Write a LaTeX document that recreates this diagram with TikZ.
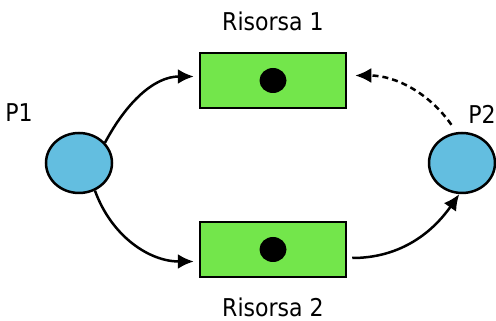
\documentclass[tikz,border=0pt]{standalone}
\usepackage{fontspec}
\setmainfont{DejaVu Sans}[FakeStretch=0.9]
\usetikzlibrary{arrows.meta, positioning, shapes.geometric}
\definecolor{placeblue}{RGB}{99,190,224}
\definecolor{resgreen}{RGB}{115,230,75}

\begin{document}
\begin{tikzpicture}[
						x=1pt, y=1pt,
						font=\fontsize{24.5}{28}\selectfont,
						place/.style = {draw, fill=placeblue, ellipse, line width=2.5pt, minimum width=66pt, minimum height=60pt},
						resource/.style = {draw, fill=resgreen, rectangle, line width=2.5pt, minimum width=146pt, minimum height=55pt},
						token/.style = {fill=black, ellipse, inner sep=0pt, minimum width=27pt, minimum height=25pt},
						tag/.style = {inner sep=0pt},
						arc/.style = {-{Latex[length=16pt,width=15pt]}, line width=2.5pt}
					]
\useasboundingbox (0,0) rectangle (496,321);

\node[place] (p1) at (79,158) {};
\node[place] (p2) at (462,158) {};
\node[resource] (r1) at (273,240.5) {};
\node[resource] (r2) at (273,71.5) {};
\node[token] (t1) at (r1) {};
\node[token] (t2) at (r2) {};

\node[tag] (n1) at (19,208) {P1};
\node[tag] (n2) at (482,207) {P2};
\node[tag] (l1) [above=21pt of r1] {Risorsa 1};
\node[tag] (l2) [below=19pt of r2] {Risorsa 2};

\draw[arc, shorten >=5pt] (p1.38) to [out=62, in=180] ([yshift=4pt]r1.west);
\draw[arc, shorten >=5pt] (p1.-60) to [out=-70, in=180] ([yshift=-12pt]r2.west);
\draw[arc, shorten <=5pt] ([yshift=-8.5pt]r2.east) to [out=0, in=-125] (p2.-95);
\draw[arc, dash pattern=on 6pt off 4pt, shorten <=9pt, shorten >=8pt] (p2.100) to [out=125, in=0] ([yshift=5pt]r1.east);
\end{tikzpicture}
\end{document}
